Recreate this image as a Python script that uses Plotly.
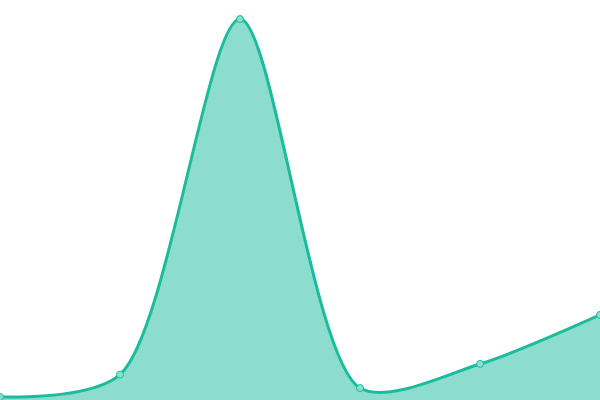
import plotly.graph_objects as go

# Data
x_vals = [0, 1, 2, 3, 4, 5]
y_vals = [1.2, 10, 150, 4.7, 14.2, 33.5]

line_color = "#1abc9c"

fig = go.Figure()

fig.add_trace(
    go.Scatter(
        x=x_vals, y=y_vals,
        mode="lines+markers",
        line=dict(color=line_color, width=3, shape="spline", smoothing=0.8),
        fill="tozeroy",
        fillcolor="rgba(26,188,156,0.5)",
        marker=dict(size=7, color="#8ae0cf", line=dict(color=line_color, width=1)),
        showlegend=False,
        cliponaxis=False
    )
)

fig.update_layout(
    width=600, height=400,
    margin=dict(l=0, r=0, t=0, b=0),
    xaxis=dict(visible=False, range=[0, 5]),
    yaxis=dict(visible=False, range=[0, 157.5]),
    paper_bgcolor="white",
    plot_bgcolor="white"
)

# drop the default page margin so the chart sits at the window edge
fig.write_html(
    "out.html",
    config={"displayModeBar": False},
    post_script="document.body.style.margin='0';"
)
